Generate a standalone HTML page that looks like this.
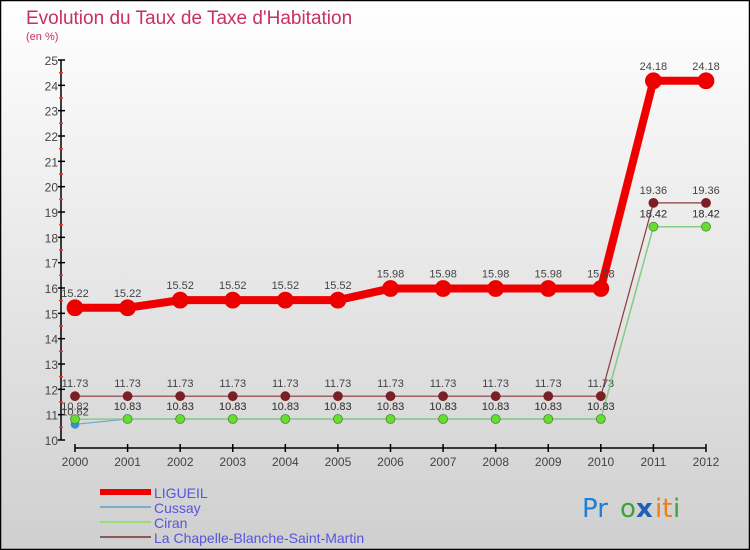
<!DOCTYPE html>
<html><head><meta charset="utf-8"><style>
body{margin:0;padding:0;}
#wrap{position:relative;width:750px;height:550px;overflow:hidden;}
</style></head><body>
<div id="wrap">
<svg id="chart" width="750" height="550" xmlns="http://www.w3.org/2000/svg" font-family="Liberation Sans, sans-serif">
<defs>
<linearGradient id="bg" x1="0" y1="0" x2="0" y2="1">
<stop offset="0" stop-color="#ffffff"/><stop offset="1" stop-color="#cfcfcf"/>
</linearGradient>
</defs>
<rect x="0.5" y="0.5" width="749" height="549" fill="url(#bg)" stroke="#000" stroke-width="1.5"/>
<text x="26" y="24" font-size="19" fill="#c8305f">Evolution du Taux de Taxe d'Habitation</text>
<text x="26" y="40" font-size="11" fill="#c8305f">(en %)</text>
<g id="axes"></g>
<g id="series"></g>
<g id="legend"></g>
<g font-size="26" font-family="DejaVu Sans, sans-serif">
<text x="582" y="517" fill="#1f7fd6">Pr</text>
<text x="620" y="517" fill="#3aa33a">o</text>
<text x="636" y="517" fill="#1f5fb6" font-weight="bold">x</text>
<text x="655" y="517" fill="#f07c14">it</text>
<text x="673" y="517" fill="#3aa33a">i</text>
</g>
</svg>
</div>
<script>
const years = [2000,2001,2002,2003,2004,2005,2006,2007,2008,2009,2010,2011,2012];
const ligueil = [15.22,15.22,15.52,15.52,15.52,15.52,15.98,15.98,15.98,15.98,15.98,24.18,24.18];
const cussay = [10.62,10.83,10.83,10.83,10.83,10.83,10.83,10.83,10.83,10.83,10.83,18.42,18.42];
const ciran = [10.82,10.83,10.83,10.83,10.83,10.83,10.83,10.83,10.83,10.83,10.83,18.42,18.42];
const chapelle = [11.73,11.73,11.73,11.73,11.73,11.73,11.73,11.73,11.73,11.73,11.73,19.36,19.36];
const yTicks = [10,11,12,13,14,15,16,17,18,19,20,21,22,23,24,25];
const seriesNames = ["LIGUEIL","Cussay","Ciran","La Chapelle-Blanche-Saint-Martin"];

const NS="http://www.w3.org/2000/svg";
const X0=75, X1=706, Y10=440, Y25=60;
const xs=i=>X0+(X1-X0)*i/(years.length-1);
const ys=v=>Y10-(v-10)*(Y10-Y25)/15;
function mk(tag,attrs,parent){const e=document.createElementNS(NS,tag);for(const k in attrs)e.setAttribute(k,attrs[k]);parent.appendChild(e);return e;}
const axes=document.getElementById('axes');
const yAxis=mk('line',{x1:61,y1:60,x2:61,y2:440,stroke:'#000','stroke-width':1.5},axes);


yTicks.forEach(v=>{
  const t=mk('line',{x1:58,x2:65,y1:ys(v),y2:ys(v),stroke:'#000','stroke-width':1.5},axes);
  
  
  if(v<25){const m=mk('line',{x1:59,x2:63,y1:ys(v+0.5),y2:ys(v+0.5),stroke:'#e33','stroke-width':1.5},axes);
  
  }
  const l=mk('text',{x:58,y:ys(v)+5,'text-anchor':'end','font-size':12,fill:'#444'},axes);
  l.textContent=v;
  
  
});
const xAxis=mk('line',{x1:X0,y1:448,x2:X1,y2:448,stroke:'#000','stroke-width':1.5},axes);


years.forEach((y,i)=>{
  const t=mk('line',{x1:xs(i),x2:xs(i),y1:444,y2:452,stroke:'#000','stroke-width':1.5},axes);
  
  
  const l=mk('text',{x:xs(i),y:466,'text-anchor':'middle','font-size':12,fill:'#444'},axes);
  l.textContent=y;
  
  
});
const ser=document.getElementById('series');
const defs=[
 {d:chapelle,c:'#7a1f24',lc:'#8a3a3e',w:1.2,r:4.5,name:'chapelle'},
 {d:ciran,c:'#66dd33',lc:'#88cc88',w:1.5,r:4.5,name:'ciran',stroke:'#4a8a2a'},
 {d:cussay,c:'#3a8fd0',lc:'#6fa8cc',w:1.2,r:4,name:'cussay'},
 {d:ligueil,c:'#ee0000',lc:'#ee0000',w:8,r:8,name:'ligueil'}
];
// draw cussay under ciran markers
[defs[0],defs[2],defs[1],defs[3]].forEach(s=>{
  const p=mk('polyline',{points:s.d.map((v,i)=>xs(i)+','+ys(v)).join(' '),fill:'none',stroke:s.lc,'stroke-width':s.w},ser);
  
  
  s.d.forEach((v,i)=>{
    const c=mk('circle',{cx:xs(i),cy:ys(v),r:s.r,fill:s.c,stroke:s.stroke||s.c,'stroke-width':0.8},ser);
    
    
    const t=mk('text',{x:xs(i),y:ys(v)-(s.name==='ligueil'?11:9),'text-anchor':'middle','font-size':11,fill:'#444'},ser);
    t.textContent=v.toFixed(2);
    
    
  });
});
const leg=document.getElementById('legend');
const legCols=['#ee0000','#7aaccc','#99dd77','#8a5a5a'];
const legW=[6,2,2,2];
seriesNames.forEach((n,i)=>{
  const y=492+i*15;
  const l=mk('line',{x1:100,x2:151,y1:y,y2:y,stroke:legCols[i],'stroke-width':legW[i]},leg);
  
  
  const t=mk('text',{x:154,y:y+6,'font-size':14,fill:'#5555dd'},leg);
  t.textContent=n;
  
  
});
</script>
</body></html>
